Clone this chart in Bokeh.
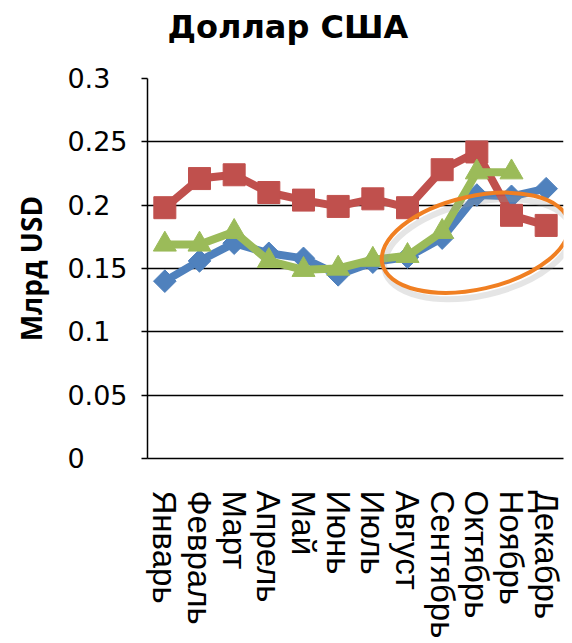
import math
from bokeh.plotting import figure
from bokeh.models import FactorRange, Range1d, FixedTicker, Title
from bokeh.embed import file_html
from bokeh.resources import INLINE

months = ["Январь", "Февраль", "Март", "Апрель", "Май", "Июнь",
          "Июль", "Август", "Сентябрь", "Октябрь", "Ноябрь", "Декабрь"]
blue_values = [0.140, 0.156, 0.170, 0.162, 0.158, 0.145, 0.155, 0.159, 0.174, 0.208, 0.207, 0.213]
red_values = [0.198, 0.221, 0.224, 0.210, 0.204, 0.199, 0.205, 0.198, 0.228, 0.242, 0.192, 0.184]
green_months = months[:11]
green_values = [0.169, 0.169, 0.179, 0.156, 0.149, 0.150, 0.157, 0.160, 0.179, 0.226, 0.226]
y_ticks = [0, 0.05, 0.1, 0.15, 0.2, 0.25, 0.3]
y_tick_labels = ["0", "0.05", "0.1", "0.15", "0.2", "0.25", "0.3"]
title_text = "Доллар США"
y_axis_title = "Млрд USD"

BLUE = "#4F81BD"
RED = "#C0504D"
GREEN = "#9BBB59"
ORANGE = "#F07F22"

p = figure(x_range=FactorRange(*months), y_range=Range1d(0, 0.3),
           width=570, height=641, title=None,
           min_border_left=147, min_border_right=7, min_border_top=78, min_border_bottom=180,
           output_backend="svg", toolbar_location=None)
p.outline_line_color = None
p.background_fill_color = "white"
p.border_fill_color = "white"

# title (a thin spacer panel keeps it raised above the frame)
spacer = Title(text=" ", text_font_size="1px", standoff=30)
p.add_layout(spacer, "above")
main_title = Title(text=title_text, align="left", offset=20, standoff=0,
                   text_font="DejaVu Sans", text_font_size="32px",
                   text_font_style="bold", text_color="black")
p.add_layout(main_title, "above")

# y axis
p.yaxis.ticker = FixedTicker(ticks=y_ticks)
def pad(lbl):
    digits = sum(c.isdigit() for c in lbl)
    return lbl + ("" if "." in lbl else "\u2008") + "\u2007" * (3 - digits)
p.yaxis.major_label_overrides = {t: pad(l) for t, l in zip(y_ticks, y_tick_labels)}
p.yaxis.major_label_text_font = "DejaVu Sans"
p.yaxis.major_label_text_font_size = "27px"
p.yaxis.major_label_text_color = "black"
p.yaxis.major_label_standoff = 14
p.yaxis.major_tick_out = 6
p.yaxis.major_tick_in = 0
p.yaxis.minor_tick_out = 0
p.yaxis.minor_tick_in = 0
p.yaxis.major_tick_line_color = "black"
p.yaxis.major_tick_line_width = 1.5
p.yaxis.axis_line_color = "black"
p.yaxis.axis_line_width = 1.5
p.yaxis.axis_label = y_axis_title
p.yaxis.axis_label_text_font = "Open Sans"
p.yaxis.axis_label_text_font_size = "28px"
p.yaxis.axis_label_text_font_style = "bold"
p.yaxis.axis_label_text_color = "black"
p.yaxis.axis_label_standoff = 14

# x axis
p.xaxis.major_label_orientation = "vertical"
p.xaxis.major_label_text_font = "Liberation Sans"
p.xaxis.major_label_text_font_size = "33px"
p.xaxis.major_label_text_color = "black"
p.xaxis.major_label_standoff = 32
p.xaxis.major_tick_out = 0
p.xaxis.major_tick_in = 0
p.xaxis.axis_line_color = "black"
p.xaxis.axis_line_width = 1.5

# grid
p.xgrid.visible = False
p.ygrid.ticker = FixedTicker(ticks=y_ticks)
p.ygrid.grid_line_color = "black"
p.ygrid.grid_line_width = 1.5

# series
p.line(months, blue_values, line_color=BLUE, line_width=8, line_join="round")
p.scatter(months, blue_values, marker="square", angle=math.pi / 4, size=16,
          fill_color=BLUE, line_color=BLUE)
p.line(months, red_values, line_color=RED, line_width=8, line_join="round")
p.scatter(months, red_values, marker="square", size=22, fill_color=RED, line_color=RED)
p.line(green_months, green_values, line_color=GREEN, line_width=8, line_join="round")
p.scatter(green_months, green_values, marker="triangle", size=23,
          fill_color=GREEN, line_color=GREEN)

# annotation ellipse with soft shadow
ex, ey = 9.46, 0.1703
p.ellipse(x=[ex + 0.07], y=[ey - 0.005], width=191, height=93, angle=0.223,
          width_units="screen", height_units="screen",
          fill_color=None, line_color="#999999", line_alpha=0.25, line_width=6)
p.ellipse(x=[ex], y=[ey], width=191, height=93, angle=0.223,
          width_units="screen", height_units="screen",
          fill_color=None, line_color=ORANGE, line_width=4)

open("out.html", "w").write(file_html(p, INLINE))
